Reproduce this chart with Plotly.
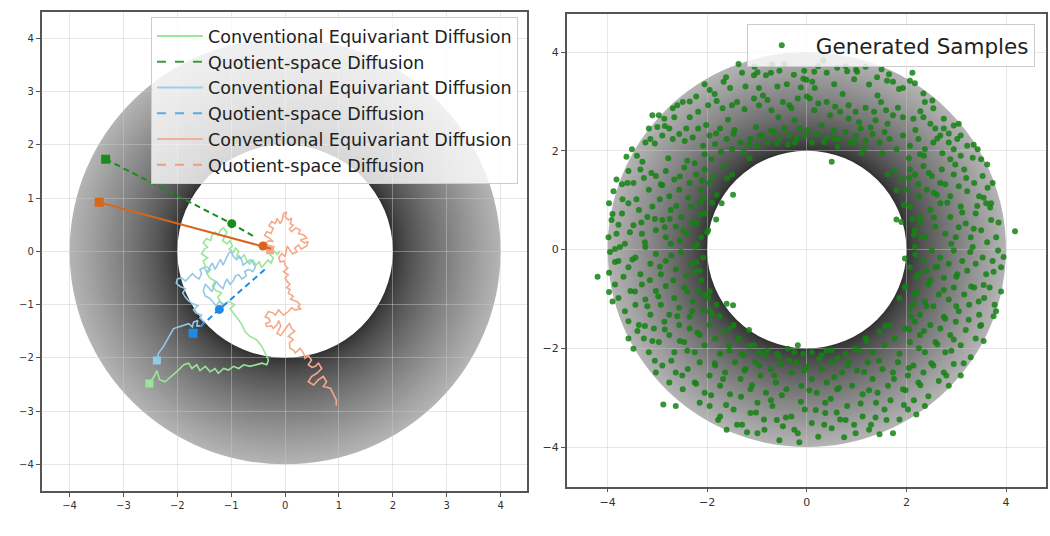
import plotly.graph_objects as go

# ---------------- data: left panel (trajectories) ----------------
green_conv_x = [-2.52, -2.43, -2.38, -2.33, -2.23, -2.10, -2.01, -1.88, -1.79, -1.73, -1.64, -1.58, -1.48, -1.39,
                -1.30, -1.24, -1.14, -1.05, -0.96, -0.86, -0.77, -0.65, -0.53, -0.43, -0.34, -0.31, -0.37, -0.43,
                -0.53, -0.65, -0.74, -0.80, -0.86, -0.91,
                -0.96, -1.02, -0.94, -1.05, -1.12, -1.20, -1.25, -1.18, -1.28, -1.35, -1.30, -1.40, -1.45, -1.38,
                -1.48, -1.52, -1.44, -1.55, -1.50, -1.44, -1.52, -1.46, -1.38, -1.36, -1.30, -1.24, -1.20, -1.14,
                -1.08, -1.12, -1.16, -1.08, -1.02, -0.98, -1.04, -0.96, -0.92, -0.86, -0.90, -0.82, -0.76, -0.72,
                -0.66, -0.60, -0.54, -0.48, -0.44, -0.38, -0.32, -0.26, -0.22, -0.28, -0.20, -0.14, -0.10, -0.14]
green_conv_y = [-2.48, -2.35, -2.24, -2.41, -2.45, -2.34, -2.26, -2.13, -2.10, -2.20, -2.13, -2.24, -2.16, -2.26,
                -2.20, -2.29, -2.20, -2.23, -2.16, -2.20, -2.13, -2.16, -2.13, -2.10, -2.13, -2.04, -1.91, -1.79,
                -1.66, -1.60, -1.51, -1.38, -1.29, -1.23,
                -1.15, -1.08, -1.00, -0.94, -1.00, -0.95, -0.86, -0.78, -0.74, -0.66, -0.56, -0.50, -0.42, -0.34,
                -0.28, -0.18, -0.12, -0.05, 0.04, 0.08, 0.16, 0.24, 0.20, 0.30, 0.36, 0.30, 0.40, 0.44,
                0.36, 0.28, 0.20, 0.14, 0.20, 0.10, 0.04, -0.02, 0.06, 0.00, -0.10, -0.14, -0.06, -0.16,
                -0.24, -0.16, -0.26, -0.20, -0.30, -0.24, -0.16, -0.22, -0.12, -0.06, 0.00, -0.06, 0.00, -0.02]

blue_conv_x = [-2.38, -2.35, -2.26, -2.16, -2.07, -1.95, -1.79, -1.72, -1.70, -1.62, -1.64, -1.55, -1.50, -1.58,
               -1.55, -1.65, -1.70, -1.62, -1.72, -1.80, -1.86, -1.90, -1.85, -1.95, -2.02, -2.00, -1.92, -1.85,
               -1.80, -1.72, -1.66, -1.60, -1.55, -1.58, -1.50, -1.45, -1.40, -1.35, -1.30, -1.25, -1.20, -1.15,
               -1.10, -1.05, -1.00, -0.96, -0.90, -0.85, -0.80, -0.78, -0.70, -0.64, -0.58, -0.55, -0.60, -0.68,
               -0.75, -0.72, -0.80, -0.86, -0.92, -0.96, -1.02, -1.08, -1.12, -1.15, -1.22, -1.28, -1.32, -1.36,
               -1.42, -1.48, -1.52, -1.48, -1.40, -1.34, -1.28, -1.22, -1.16, -1.18, -1.22]
blue_conv_y = [-2.05, -1.91, -1.79, -1.60, -1.45, -1.41, -1.36, -1.42, -1.33, -1.30, -1.40, -1.40, -1.33, -1.25,
               -1.20, -1.16, -1.10, -1.02, -0.98, -0.92, -0.85, -0.78, -0.70, -0.66, -0.60, -0.52, -0.50, -0.56,
               -0.50, -0.42, -0.48, -0.52, -0.42, -0.34, -0.30, -0.40, -0.30, -0.22, -0.34, -0.24, -0.15, -0.26,
               -0.14, -0.04, 0.00, -0.10, -0.16, -0.08, -0.18, -0.26, -0.20, -0.16, -0.24, -0.30, -0.38, -0.34,
               -0.38, -0.46, -0.52, -0.44, -0.46, -0.55, -0.62, -0.52, -0.60, -0.70, -0.64, -0.56, -0.66, -0.76,
               -0.68, -0.62, -0.74, -0.84, -0.88, -0.96, -1.02, -0.94, -1.00, -1.08, -1.10]

salmon_conv_x = [-0.28, -0.20, -0.32, -0.37, -0.30, -0.22, -0.28, -0.38, -0.34, -0.26, -0.22, -0.30, -0.25, -0.18,
                 -0.15, -0.09, -0.05, -0.03, 0.03, 0.00, 0.06, 0.12, 0.10, 0.15, 0.08, 0.12, 0.20, 0.28, 0.25,
                 0.34, 0.40, 0.28, 0.36, 0.43, 0.40, 0.37, 0.30, 0.25, 0.18, 0.22, 0.14, 0.09, 0.04, 0.00, -0.06,
                 -0.12, -0.09, -0.02, 0.00, 0.05, -0.03, 0.02, 0.06, 0.00, 0.04, 0.09, 0.03, 0.09, 0.06, 0.12,
                 0.15, 0.10, 0.22, 0.28, 0.24, 0.30, 0.19, 0.12, 0.06, -0.03, -0.08, -0.12, -0.18, -0.22, -0.31,
                 -0.37, -0.30, -0.28, -0.36, -0.34, -0.25, -0.22, -0.15, -0.12, -0.08, -0.15, -0.08, -0.03, 0.03,
                 0.08, 0.12, 0.18, 0.10, 0.06, 0.12, 0.15, 0.08, 0.09, 0.16, 0.19, 0.24, 0.28, 0.32, 0.34, 0.37,
                 0.43, 0.49, 0.43, 0.50, 0.56, 0.62, 0.68, 0.59, 0.49, 0.43, 0.53, 0.62, 0.71, 0.77, 0.71, 0.84,
                 0.88, 0.90, 0.95, 0.95]
salmon_conv_y = [0.02, 0.08, 0.12, 0.15, 0.20, 0.18, 0.24, 0.30, 0.37, 0.34, 0.43, 0.48, 0.56, 0.52,
                 0.62, 0.52, 0.60, 0.71, 0.74, 0.65, 0.59, 0.62, 0.52, 0.49, 0.42, 0.37, 0.44, 0.40, 0.33,
                 0.31, 0.25, 0.21, 0.16, 0.18, 0.10, 0.08, 0.04, 0.12, 0.06, -0.01, -0.05, 0.02, 0.10, -0.10, -0.04,
                 -0.12, -0.20, -0.18, -0.26, -0.32, -0.38, -0.42, -0.44, -0.50, -0.57, -0.62, -0.68, -0.72, -0.79, -0.82,
                 -0.85, -0.90, -0.94, -1.00, -1.04, -1.08, -1.10, -1.06, -1.13, -1.20, -1.14, -1.10, -1.20, -1.16, -1.13,
                 -1.23, -1.26, -1.32, -1.36, -1.41, -1.40, -1.45, -1.38, -1.30, -1.40, -1.54, -1.58, -1.51, -1.41,
                 -1.35, -1.45, -1.50, -1.56, -1.60, -1.63, -1.66, -1.72, -1.82, -1.86, -1.91, -1.86, -1.82, -1.88, -1.91, -2.01,
                 -1.95, -2.04, -2.13, -2.18, -2.16, -2.10, -2.20, -2.29, -2.35, -2.45, -2.51, -2.41, -2.35, -2.45, -2.54, -2.57,
                 -2.66, -2.70, -2.79, -2.90]

green_quot_x = [-3.33, -0.99, -0.55]
green_quot_y = [1.73, 0.52, 0.26]
blue_quot_x = [-1.71, -1.22, -0.33]
blue_quot_y = [-1.54, -1.09, -0.30]
orange_quot_x = [-3.45, -0.41, -0.26]
orange_quot_y = [0.92, 0.10, 0.05]

conv_name = "Conventional Equivariant Diffusion"
quot_name = "Quotient-space Diffusion"

# ---------------- data: right panel (generated samples) ----------------
samples_x = [
    -1.37, -1.30, -1.06, -0.99, -0.45, -0.26, -0.07, -0.01, 0.11, 0.40, 0.61, 0.78, 0.99, 1.01, 1.41, 1.61, 1.73,
    2.12, 2.17, 2.07, 0.81, 1.25, -0.82, -0.59, -1.67, -1.54, -1.95, -0.96, 0.16, 1.93, 2.34, -0.72, 0.23,
    -1.98, -1.81, -1.69, -1.50, -1.40, -1.25, -1.06, -0.96, -0.79, -0.71, -0.48, -0.35, -0.31, -0.18, 0.00, 0.06,
    0.23, 0.40, 0.57, 0.67, 0.84, 0.98, 1.18, 1.35, 1.49, 1.59, 1.73, 1.83, 1.93, 2.14, 2.34, 2.48, -2.35, -2.18,
    -2.66, -3.10, -2.86, -2.49, -2.69, -2.22, -2.97, 2.54, 2.75, 2.95, 3.09, 3.22, 3.43, 2.37,
    -3.17, -3.00, -3.24, -3.14, -2.90, -2.76, -2.69, -2.56, -2.42, -2.29, -2.18, -2.08, -1.95, -1.84, -1.74, -1.61,
    -1.50, -1.47, -1.33, -1.27, -1.13, -0.99, -0.89, -0.79, -0.65, -0.55, -0.45, -0.35, -0.24, -0.14, -0.04, 0.10,
    0.20, 0.30, 0.40, 0.54, 0.64, 0.78, 0.88, 0.98, 1.08, 1.18, 1.32, 1.46, 1.56, 1.66, 1.80, 1.93, 2.07, 2.24,
    2.37, 2.54, 2.68, 2.85, 2.95, 3.02, 3.09, 2.75, 2.58, 0.50, 2.27, 2.88, -1.91, -2.05, -3.51, -3.41,
    -3.82, -3.71, -3.88, -3.58, -3.48, -3.34, -3.27, -3.17, -3.03, -2.93, -2.83, -2.76, -2.66, -2.56, -2.46, -2.35,
    -2.22, -2.12, -2.05, -1.95, -1.81, -1.88, -1.67, -1.50, -1.48, -1.71,
    1.76, 1.90, 2.00, 2.07, 2.17, 2.24, 2.34, 2.41, 2.51, 2.61, 2.71, 2.78, 2.88, 2.95, 3.05, 3.16, 3.22, 3.36,
    3.46, 3.53, 3.63, 3.73, 3.70, 3.33, 3.50,
    -3.97, -3.92, -3.82, -3.71, -3.58, -3.48, -3.37, -3.31, -3.20, -3.10, -3.03, -2.90, -2.83, -2.73, -2.63, -2.52,
    -2.42, -2.32, -2.22, -2.12, -2.05, -1.98, -1.82,
    1.80, 1.90, 2.07, 2.17, 2.27, 2.37, 2.48, 2.58, 2.68, 2.78, 2.88, 2.99, 3.09, 3.19, 3.29, 3.39, 3.50, 3.60,
    3.70, 3.80, 4.18,
    -3.95, -3.85, -3.78, -4.20, -3.97, -3.65, -3.58, -3.44, -3.34, -3.24, -3.14, -3.03, -2.93, -2.83, -2.73, -2.63,
    -2.52, -2.42, -2.32, -2.25, -2.15, -2.08,
    1.97, 2.07, 2.17, 2.24, 2.34, 2.41, 2.51, 2.58, 2.68, 2.75, 2.85, 2.95, 3.02, 3.12, 3.22, 3.33, 3.39, 3.53,
    3.60, 3.73, 3.84, 3.90,
    -3.97, -3.78, -3.85, -3.65, -3.54, -3.44, -3.31, -3.24, -3.14, -3.03, -2.93, -2.83, -2.76, -2.66, -2.56, -2.46,
    -2.35, -2.29, -2.18, -2.08, -1.98, -1.91, -1.81, -1.61, -1.48,
    1.86, 1.97, 2.07, 2.17, 2.27, 2.37, 2.44, 2.54, 2.65, 2.75, 2.85, 2.95, 3.05, 3.16, 3.26, 3.36, 3.46, 3.56,
    3.67, 3.77, 3.80,
    -3.58, -3.48, -3.37, -3.27, -3.17, -3.07, -2.97, -2.86, -2.76, -2.66, -2.56, -2.46, -2.35, -2.25, -2.15, -2.05,
    -1.95, -1.84, -1.74, -1.67, -1.57, -1.47, -1.37, -1.27, -1.16, -1.06, -0.96,
    -0.86, -0.59, -0.38, -0.18, -0.07, 0.10, 0.30, 0.50, 0.78, 0.98,
    1.18, 1.32, 1.46, 1.56, 1.66, 1.76, 1.86, 1.97, 2.07, 2.17, 2.27, 2.37, 2.48, 2.58, 2.68, 2.78, 2.88, 2.99,
    3.09, 3.19, 3.29, 3.39, 3.50,
    -3.03, -2.90, -2.76, -2.63, -2.49, -2.39, -2.25, -2.15, -2.05, -1.95, -1.84, -1.74, -1.64, -1.54, -1.44, -1.33,
    -1.23, -1.13, -1.03, -0.93, -0.82, -0.72, -0.62, -0.52, -0.41, -0.31, -0.21, -0.11, 0.00, 0.10, 0.20, 0.30,
    0.40, 0.50, 0.61, 0.71, 0.81, 0.91, 1.01, 1.12, 1.22, 1.32, 1.42, 1.52, 1.63, 1.73, 1.83, 1.93, 2.03, 2.14,
    2.24, 2.34, 2.44, 2.54, 2.65, 2.75, 2.85, 2.95, 3.09, -2.88, -2.63,
    -1.95, -1.74, -1.61, -1.47, -1.30, -1.13, -0.99, -0.86, -0.69, -0.55, -0.48, -0.31, -0.18, -0.04, 0.10, 0.23,
    0.37, 0.50, 0.67, 0.81, 0.98, 1.12, 1.29, 1.46, 1.56, 1.73, 1.86, 2.03, 2.20, 2.37, 1.39, -0.99, 0.37,
]
samples_y = [
    3.76, 3.58, 3.53, 3.59, 3.75, 3.54, 3.46, 3.44, 3.40, 3.58, 3.68, 3.71, 3.64, 3.60, 3.49, 3.42, 3.40,
    3.58, 3.37, 3.42, 3.61, 3.34, 3.53, 3.30, 3.40, 3.27, 3.23, 3.27, 3.27, 3.27, 3.16, 3.58, 3.71,
    2.92, 3.01, 2.86, 2.92, 2.99, 2.84, 3.06, 2.92, 3.03, 2.82, 2.99, 2.92, 2.86, 3.06, 3.10, 3.06,
    2.96, 2.99, 2.89, 2.79, 2.92, 2.79, 2.87, 2.79, 2.99, 2.82, 2.72, 2.87, 2.68, 2.65, 2.68, 2.55, 2.68, 2.79,
    2.68, 2.72, 2.65, 2.99, 2.86, 3.10, 2.72, 2.86, 2.65, 2.51, 2.31, 2.10, 2.03, 2.99,
    2.45, 2.48, 2.17, 2.24, 2.31, 2.45, 2.24, 2.34, 2.45, 2.27, 2.45, 2.10, 2.31, 2.14, 2.45, 2.24,
    2.03, 2.34, 2.17, 1.97, 2.24, 2.10, 2.31, 2.17, 2.38, 2.24, 2.45, 2.31, 2.17, 2.45, 2.31, 2.17,
    2.34, 2.51, 2.27, 2.41, 2.24, 2.38, 2.17, 2.31, 2.45, 2.21, 2.34, 2.17, 2.38, 2.24, 2.03, 2.31, 2.10, 2.24,
    2.03, 2.17, 2.31, 2.17, 2.03, 2.24, 1.90, 2.45, 2.45, 1.78, 1.93, 1.83, 1.83, 1.93, 2.03, 1.90,
    1.42, 1.32, 1.18, 1.59, 1.35, 1.62, 1.45, 1.21, 1.49, 1.32, 1.59, 1.08, 1.42, 1.21, 1.66, 1.35,
    1.52, 1.21, 1.62, 1.35, 1.11, 1.49, 1.69, 1.52, 1.11, 0.94,
    1.59, 1.42, 1.21, 1.62, 1.52, 1.32, 1.69, 1.21, 1.49, 1.11, 1.62, 1.32, 1.08, 1.52, 1.28, 1.62, 1.18, 1.35,
    1.08, 1.49, 1.25, 1.35, 0.94, 1.86, 1.83,
    0.94, 0.60, 0.32, 0.73, 0.94, 0.49, 0.80, 0.32, 0.66, 0.87, 0.39, 0.60, 0.25, 0.80, 0.46, 0.66,
    0.32, 0.87, 0.53, 0.25, 0.73, 0.39, 0.61,
    0.61, 0.56, 0.87, 0.39, 0.66, 0.25, 0.80, 0.46, 0.94, 0.32, 0.66, 0.25, 0.87, 0.53, 0.25, 0.73, 0.39, 0.94,
    0.60, 0.25, 0.37,
    -0.05, 0.01, -0.23, -0.55, -0.47, 0.12, -0.36, -0.16, -0.50, 0.05, -0.29, -0.09, -0.50, -0.23, 0.12, -0.40,
    -0.05, -0.53, -0.29, 0.05, -0.43, -0.16,
    -0.18, -0.36, 0.05, -0.50, -0.23, -0.43, -0.02, -0.36, -0.16, -0.57, -0.29, -0.02, -0.50, -0.23, -0.43, 0.05,
    -0.29, -0.16, -0.50, -0.23, -0.02, -0.36,
    -0.86, -0.98, -0.71, -1.25, -0.84, -1.12, -0.71, -1.01, -1.32, -0.84, -1.12, -0.74, -1.32, -0.98, -1.18, -0.77,
    -1.36, -1.05, -0.84, -1.22, -0.98, -1.32, -1.12, -1.10, -1.13,
    -0.98, -0.77, -1.18, -0.91, -1.32, -1.05, -0.71, -1.15, -0.91, -1.36, -1.01, -0.77, -1.25, -0.91, -1.12, -0.77,
    -1.32, -0.98, -0.77, -1.12, -1.25,
    -1.80, -2.01, -1.53, -1.80, -2.08, -1.60, -1.87, -1.46, -1.73, -2.08, -1.53, -1.87, -1.60, -2.08, -1.73, -1.94,
    -1.53, -1.80, -2.11, -1.66, -1.94, -1.53, -1.80, -2.14, -1.63, -1.94, -2.08,
    -2.14, -2.11, -2.01, -1.94, -2.11, -2.08, -2.14, -2.04, -2.11, -2.01,
    -1.80, -2.08, -1.66, -1.94, -1.53, -1.80, -2.11, -1.60, -1.87, -1.46, -1.73, -2.08, -1.53, -1.87, -1.60, -2.08,
    -1.73, -1.46, -1.94, -1.63, -2.18, -1.80, -1.53,
    -2.49, -2.35, -2.69, -2.49, -2.83, -2.42, -2.69, -2.28, -2.90, -2.55, -2.35, -2.76, -2.49, -2.93, -2.28, -2.62,
    -2.42, -2.83, -2.28, -2.55, -2.90, -2.42, -2.69, -2.32, -2.83, -2.49, -2.28, -2.76, -2.38, -2.62, -2.90, -2.42,
    -2.69, -2.28, -2.83, -2.49, -2.35, -2.76, -2.45, -2.93, -2.28, -2.62, -2.90, -2.42, -2.76, -2.49, -2.28, -2.83,
    -2.55, -2.35, -2.69, -2.49, -2.97, -2.35, -2.66, -2.49, -2.76, -2.32, -2.55, -3.14, -3.17,
    -3.17, -3.38, -3.65, -3.24, -3.55, -3.31, -3.72, -3.44, -3.17, -3.86, -3.58, -3.38, -3.72, -3.24, -3.51, -3.79,
    -3.31, -3.62, -3.44, -3.17, -3.72, -3.38, -3.55, -3.74, -3.24, -3.72, -3.44, -3.24, -3.34, -3.17, -3.10, -3.10,
    -3.10,
]

# second pass of samples (filling the gaps between the first pass)
extra_x = [
    -0.55, 0.33, 1.18, -1.62, -2.05, 1.85, 2.52, -2.60, -0.12, 0.72, 1.42, -0.88, -1.23, 0.47, -0.57, 1.05,
    -1.58, -2.02, 1.62, 2.18, -0.25, 0.15, -1.02, 0.84, 1.28, -1.82, -2.45, 2.62, 2.85, 3.05, -2.85, -3.05,
    -0.72, 0.02, 0.62, -0.38, 1.15, -1.15, 1.52, -1.72, 2.05, -2.25, -0.20, 0.35, -0.95, 0.95, -1.45, 1.38,
    -0.05, 0.55, -0.40, 1.65, -1.85, 2.28, -2.35, 0.95, -0.70, 0.15, 1.50, -1.05,
    -3.62, -3.30, -3.90, -3.75, -3.55, -3.42, -3.12, -2.95, -2.78, -2.55, -2.38, -2.62, -2.85, -3.05, -3.25,
    -2.55, -2.30, -2.15, -2.72, -2.95, -3.15, -3.45, -3.68, -3.85, -3.90, -3.58, -3.25, -2.98, -2.68, -2.40,
    -2.22, -2.48, -2.12, -2.30, -2.60, -2.85, -3.10, -3.40, -3.05, -2.72, -2.40, -2.20, -1.95, -2.05, -3.70,
    -3.32, -2.90, -2.40, -2.10, -2.00, -2.75, -3.50, -3.20, -2.55, -3.78, -3.98, -3.60, -2.20,
    3.85, 3.62, 3.42, 3.20, 2.98, 2.72, 2.45, 2.25, 2.12, 2.55, 2.82, 3.05, 3.28, 3.55, 3.75, 3.90, 3.48,
    3.25, 3.00, 2.75, 2.48, 2.22, 2.10, 2.35, 2.62, 2.90, 3.15, 2.80, 2.50, 2.25, 2.05, 3.55, 3.62, 3.35,
    2.55, 2.30, 2.18, 2.62, 2.90, 3.12, 3.35, 3.68, 3.95, 3.30, 2.78, 2.40, 2.15, 3.55, 2.05, 2.35, 3.00,
    3.45, 2.68, 3.75, 2.95,
    -1.85, -1.55, -1.25, -0.95, -0.65, -0.35, -0.05, 0.25, 0.55, 0.85, 1.15, 1.45, 1.75, 2.05, -2.22, -1.92,
    -1.62, -1.32, -1.02, -0.72, -0.42, -0.12, 0.18, 0.48, 0.78, 1.08, 1.38, 1.68, 1.98, 2.28, -2.50, -1.40,
    -0.85, -0.25, 0.35, 0.95, 1.60, -1.78, 1.95, -0.50, 0.05, 0.65, 1.25, -1.10, -1.68, -0.80, 0.40, -0.25,
    1.05, -1.30, 0.75, -0.15, -1.20, 1.25, -2.15, 2.15, -0.60, 0.60,
    -2.15, -2.25, 2.28, 2.20, -0.60, 0.55, -0.55, 0.62, -1.60, 1.62, -1.55, 1.58, -1.90, 1.95, -1.95, 1.98,
    -1.15, 1.10, -1.15, 1.20, -2.08, 2.15, -1.75, 1.80,
]
extra_y = [
    3.62, 3.83, 3.70, 3.49, 3.35, 3.25, 3.02, 2.92, 3.28, 3.15, 3.12, 3.12, 3.30, 2.72, 2.68, 2.58,
    2.63, 2.52, 2.55, 2.42, 2.62, 2.82, 2.48, 2.65, 2.47, 2.35, 2.20, 2.25, 2.35, 2.55, 2.50, 2.15,
    2.40, 2.42, 2.08, 2.12, 2.05, 2.12, 1.95, 1.98, 1.85, 1.75, 2.25, 2.18, 2.30, 2.18, 2.42, 2.62,
    3.62, 3.35, 3.35, 3.55, 3.15, 2.80, 3.00, 3.45, 3.75, 3.60, 3.65, 3.70,
    1.88, 1.78, 0.72, 0.05, 0.35, 1.02, 1.55, 1.02, 1.85, 1.48, 1.05, 0.88, 0.45, 0.62, 0.15,
    0.18, 0.55, 0.95, -0.12, -0.35, -0.62, -0.85, -0.55, -0.25, -1.05, -1.45, -1.55, -0.95, -0.62, -0.85,
    -0.25, 0.38, -0.62, -1.25, -1.35, -1.62, -1.85, -1.65, -2.25, -2.25, -2.05, -1.68, -1.25, -0.92, 1.02,
    0.55, 1.30, 1.80, 1.40, 0.35, 0.62, -0.20, -1.15, -1.85, 0.50, 0.25, 1.35, 0.10,
    0.55, 0.15, 0.88, 1.45, 1.72, 1.95, 1.55, 1.08, 0.62, 0.65, 0.95, 0.45, -0.05, -0.72, -0.45, -0.85, -1.55,
    -1.42, -1.15, -0.82, -0.62, -0.85, -1.35, -1.65, -1.92, -2.05, -2.30, -2.55, -2.30, -2.00, -1.62, -1.85, 1.72, 2.12,
    1.15, 0.25, -0.10, -0.35, 0.12, 0.75, 0.42, 0.85, -0.15, -0.75, -1.40, -1.15, 0.30, 1.05, 1.45, 1.90, -0.55,
    -1.05, 1.35, -1.35, -1.82,
    -2.30, -2.05, -2.45, -2.35, -2.55, -2.25, -2.45, -2.22, -2.58, -2.28, -2.48, -2.25, -2.62, -2.40, -2.72, -2.95,
    -3.15, -2.98, -3.30, -3.05, -3.40, -3.08, -3.25, -3.02, -3.45, -3.12, -3.40, -3.05, -2.85, -2.75, -2.55, -3.55,
    -3.65, -3.65, -3.55, -3.55, -3.45, -3.45, -3.15, -2.95, -2.85, -2.80, -2.85, -2.75, -2.62, -2.05, -2.05, -2.08,
    -2.05, -2.12, -3.80, -3.90, -3.70, -3.65, -3.10, -3.05, -3.45, -3.30,
    0.70, -0.45, 0.55, -0.55, 2.15, 2.25, -2.18, -2.20, 1.45, 1.52, -1.60, -1.55, 0.95, 0.90, -0.85, -0.75,
    1.85, 1.95, -1.95, -1.85, 1.05, -1.10, -1.35, 1.20,
]

# ---------------- style helpers ----------------
def gray_for(r):
    t = (r - 2.0) / 2.0
    g = int(round(48 + 132 * (max(t, 0.0) ** 0.75)))
    return "rgb(%d,%d,%d)" % (g, g, g)

def annulus_shapes(xref, yref, n=50, r_in=2.0, r_out=4.0):
    out = []
    dr = (r_out - r_in) / n
    for i in range(n):
        r = r_out - i * dr
        out.append(dict(type="circle", xref=xref, yref=yref, x0=-r, x1=r, y0=-r, y1=r,
                        fillcolor=gray_for(r - dr / 2), line=dict(width=0), layer="below"))
    out.append(dict(type="circle", xref=xref, yref=yref, x0=-r_in, x1=r_in, y0=-r_in, y1=r_in,
                    fillcolor="white", line=dict(width=0), layer="below"))
    return out

C_LG, C_LB, C_LS = "#98e698", "#93c9e6", "#f5a98a"
C_G, C_B, C_O = "#1a8c1a", "#1f8ae6", "#d9651b"

fig = go.Figure()

def walk(x, y, color):
    fig.add_trace(go.Scatter(x=x, y=y, mode="lines", line=dict(color=color, width=1.6),
                             showlegend=False, xaxis="x", yaxis="y"))
    fig.add_trace(go.Scatter(x=x[:1], y=y[:1], mode="markers",
                             marker=dict(symbol="square", size=8, color=color),
                             showlegend=False, xaxis="x", yaxis="y"))

def quot(x, y, color, dash):
    fig.add_trace(go.Scatter(x=x, y=y, mode="lines", line=dict(color=color, width=2, dash=dash),
                             showlegend=False, xaxis="x", yaxis="y"))
    fig.add_trace(go.Scatter(x=x[:2], y=y[:2], mode="markers",
                             marker=dict(symbol=["square", "circle"], size=9, color=color),
                             showlegend=False, xaxis="x", yaxis="y"))

walk(green_conv_x, green_conv_y, C_LG)
quot(green_quot_x, green_quot_y, C_G, "6px,4px")
walk(blue_conv_x, blue_conv_y, C_LB)
quot(blue_quot_x, blue_quot_y, C_B, "6px,4px")
walk(salmon_conv_x, salmon_conv_y, C_LS)
quot(orange_quot_x, orange_quot_y, C_O, "solid")

# legend-only entries (matching the legend swatches)
leg_items = [(conv_name, "#9ee89e", "solid"), (quot_name, "#3c9c3c", "dash"),
             (conv_name, "#9ccfeb", "solid"), (quot_name, "#5aaae6", "dash"),
             (conv_name, "#f2b096", "solid"), (quot_name, "#eb9f7d", "dash")]
for i, (nm, col, ds) in enumerate(leg_items):
    fig.add_trace(go.Scatter(x=[None], y=[None], mode="lines", name=nm,
                             line=dict(color=col, width=2, dash=ds), legend="legend",
                             legendgroup="g%d" % i, xaxis="x", yaxis="y"))

fig.add_trace(go.Scatter(x=samples_x + extra_x, y=samples_y + extra_y, mode="markers",
                         name="Generated Samples",
                         marker=dict(size=6, color="rgba(20,130,20,0.85)"),
                         legend="legend2", xaxis="x2", yaxis="y2"))

def axis_common(fs):
    return dict(showgrid=True, gridcolor="rgba(200,200,200,0.45)", gridwidth=1, zeroline=False,
                showline=True, mirror=True, linecolor="#555555", linewidth=1.5,
                ticks="outside", ticklen=4, tickcolor="#555555",
                tickfont=dict(family="DejaVu Sans", size=fs, color="#333333"))

fig.update_layout(
    width=1050, height=536, margin=dict(l=0, r=0, t=0, b=0),
    paper_bgcolor="white", plot_bgcolor="white",
    shapes=annulus_shapes("x", "y") + annulus_shapes("x2", "y2"),
    xaxis=dict(domain=[0.0396, 0.5019], range=[-4.52, 4.49], tickvals=[-4, -3, -2, -1, 0, 1, 2, 3, 4],
               anchor="y", **axis_common(10)),
    yaxis=dict(domain=[0.0840, 0.9772], range=[-4.5, 4.49], tickvals=[-4, -3, -2, -1, 0, 1, 2, 3, 4],
               anchor="x", **axis_common(10)),
    xaxis2=dict(domain=[0.5397, 0.9961], range=[-4.82, 4.80], tickvals=[-4, -2, 0, 2, 4],
                anchor="y2", **axis_common(11)),
    yaxis2=dict(domain=[0.0922, 0.9748], range=[-4.8, 4.78], tickvals=[-4, -2, 0, 2, 4],
                anchor="x2", **axis_common(11)),
    legend=dict(x=0.4933, y=0.968, xanchor="right", yanchor="top",
                bgcolor="rgba(255,255,255,0.8)", bordercolor="#cccccc", borderwidth=1,
                font=dict(family="DejaVu Sans", size=17.5, color="#222222"),
                tracegroupgap=0, itemwidth=46),
    legend2=dict(x=0.9855, y=0.9558, xanchor="right", yanchor="top",
                 bgcolor="rgba(255,255,255,0.8)", bordercolor="#cccccc", borderwidth=1,
                 font=dict(family="DejaVu Sans", size=21.5, color="#222222"), itemwidth=58),
)

fig.write_html("out.html")
